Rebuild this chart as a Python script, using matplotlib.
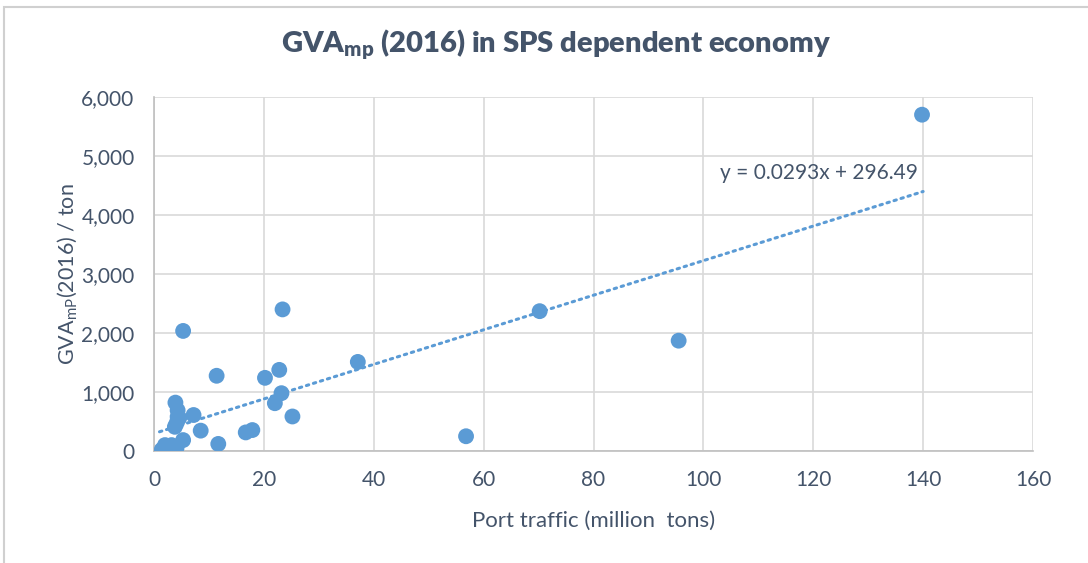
import matplotlib.pyplot as plt
from matplotlib.patches import Rectangle
from matplotlib.ticker import FuncFormatter
import numpy as np

# Données
traffic = [139.8, 70.2, 95.5, 56.8, 37.1, 23.4, 22.8, 20.2, 23.2, 22.0, 25.2,
           11.4, 5.3, 11.7, 8.5, 16.7, 17.9, 7.2, 3.9, 4.3, 4.3, 4.1, 3.8,
           5.3, 1.4, 2.0, 3.2, 4.1, 2.6, 4.6]
gva = [5700, 2370, 1870, 250, 1510, 2400, 1375, 1240, 980, 810, 585,
       1275, 2035, 120, 345, 315, 355, 610, 820, 690, 580, 470, 410,
       185, 20, 100, 100, 50, 60, 560]
slope, intercept = 0.0293, 296.49
x_ticks = [0, 20, 40, 60, 80, 100, 120, 140, 160]
y_ticks = [0, 1000, 2000, 3000, 4000, 5000, 6000]

blue = '#5B9BD5'
txt = '#44546A'
plt.rcParams['font.family'] = ['Lato', 'DejaVu Sans']

fig = plt.figure(figsize=(10.88, 5.63), dpi=100)
ax = fig.add_axes([154/1088, 1-451/563, (1033-154)/1088, (451-97)/563])

# cadre du graphique
fig.patches.append(Rectangle((4/1088, -0.1), 1.2, 1.1 - 7/563,
                             transform=fig.transFigure, fill=False,
                             edgecolor='#d0d0d0', linewidth=1.5))

ax.scatter(traffic, gva, s=130, color=blue, zorder=3, edgecolors='none')

# droite de tendance (x en milliers dans l'équation)
xl = np.array([1, 140])
ax.plot(xl, slope*1000*xl + intercept, linestyle=(0, (0.8, 1.6)),
        color=blue, linewidth=2.2, dash_capstyle='round', zorder=2)
ax.text(103, 4720, 'y = 0.0293x + 296.49', fontsize=15, color=txt,
        va='center', ha='left')

ax.set_xlim(0, 160)
ax.set_ylim(0, 6000)
ax.set_xticks(x_ticks)
ax.set_yticks(y_ticks)
ax.yaxis.set_major_formatter(FuncFormatter(lambda v, p: f'{int(v):,}'))
ax.grid(True, color='#d9d9d9', linewidth=1.2)
ax.set_axisbelow(True)
for s in ['top', 'right']:
    ax.spines[s].set_visible(False)
for s in ['left', 'bottom']:
    ax.spines[s].set_color('#bfbfbf')
    ax.spines[s].set_linewidth(1.2)
ax.tick_params(length=0, labelsize=15, colors=txt)
ax.tick_params(axis='x', pad=14)
ax.tick_params(axis='y', pad=14)

ax.set_xlabel('Port traffic (million  tons)', fontsize=16, color=txt, labelpad=15)
ax.set_ylabel('GVA$_{\\mathregular{mP}}$(2016) / ton', fontsize=15.5, color=txt)
ax.yaxis.set_label_coords(-0.098, 0.5)
ax.yaxis.label.set_va('center')

# titre centré sur la figure
fig.text(556/1088, 1-45/563, 'GVA$_{\\mathregular{mp}}$ (2016) in SPS dependent economy',
         fontsize=21, fontweight='heavy', color=txt, ha='center', va='center')

plt.savefig('out.png', dpi=100)
